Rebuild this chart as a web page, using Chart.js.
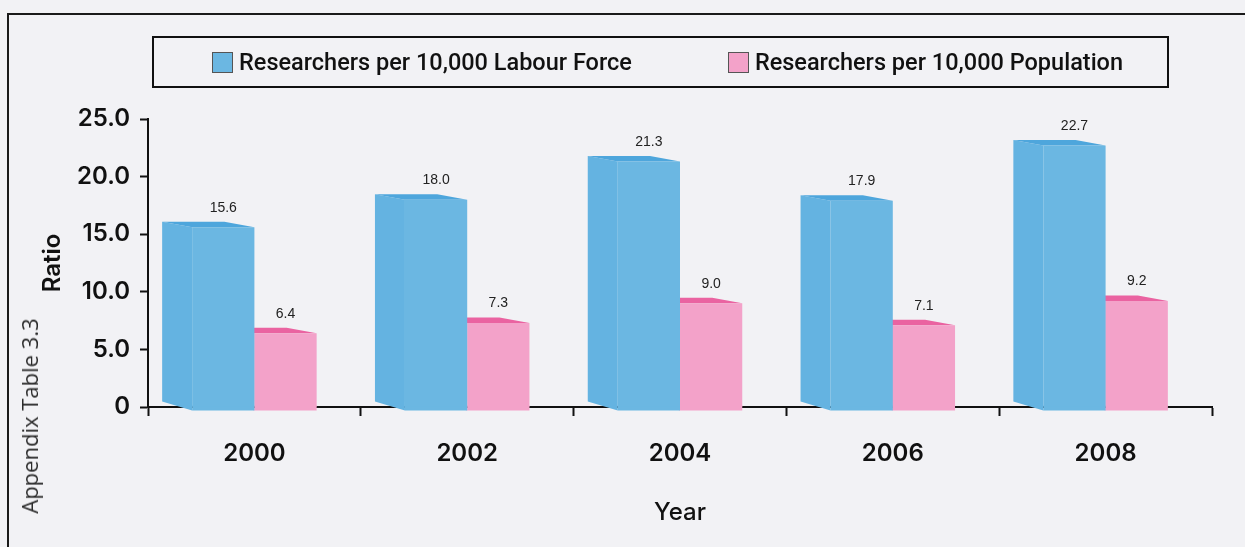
<!DOCTYPE html>
<html>
<head>
<meta charset="utf-8">
<title>Researchers per 10,000</title>
<script src="https://cdn.jsdelivr.net/npm/chart.js@4.4.0/dist/chart.umd.min.js"></script>
<style>
  body { margin: 0; background: #f2f2f5; }
  #wrap { position: relative; width: 1245px; height: 547px; overflow: hidden; }
  #chart { position: absolute; left: 0; top: 0; }
  .frame-top { position: absolute; left: 7px; top: 13px; width: 1238px; height: 2px; background: #1a1a1a; }
  .frame-left { position: absolute; left: 7px; top: 13px; width: 2px; height: 534px; background: #1a1a1a; }
  .side-note {
    position: absolute; left: 29px; top: 416px;
    transform: translate(-50%, -50%) rotate(-90deg);
    font: 22px "Open Sans", sans-serif; color: #2a2a2a; white-space: nowrap;
  }
  #legend {
    position: absolute; left: 152px; top: 36px; width: 955px; height: 48px;
    border: 2px solid #111; display: flex; align-items: center;
    padding-left: 58px; box-sizing: content-box; gap: 96px;
    font: 500 23.5px Roboto, sans-serif; color: #111;
  }
  #legend .item { display: flex; align-items: center; }
  #legend .box { width: 19px; height: 19px; border: 1px solid #555; margin-right: 6px; }
</style>
</head>
<body>
<div id="wrap">
  <canvas id="chart" width="1245" height="547"></canvas>
  <div class="frame-top"></div>
  <div class="frame-left"></div>
  <div class="side-note">Appendix Table 3.3</div>
  <div id="legend"></div>
</div>
<script>
const years = ["2000", "2002", "2004", "2006", "2008"];
const labourForce = [15.6, 18.0, 21.3, 17.9, 22.7];
const population = [6.4, 7.3, 9.0, 7.1, 9.2];
const yTicks = [0, 5, 10, 15, 20, 25];

// front / top / side shades for each series
const shades = [
  { front: "#6bb7e2", top: "#4ea6dc", side: "#64b3e1" },
  { front: "#f3a2c9", top: "#ea63a1", side: "#f08fbd" }
];

const DEPTH_X = 30;
const DEPTH_Y = 5.5;
const FLOOR = 4;

// extruded faces behind each bar, drawn before the fronts
const bars3d = {
  id: "bars3d",
  beforeDatasetsDraw(chart) {
    const ctx = chart.ctx;
    ctx.save();
    for (let d = chart.data.datasets.length - 1; d >= 0; d--) {
      const meta = chart.getDatasetMeta(d);
      const c = shades[d];
      meta.data.forEach(function (bar) {
        const p = bar.getProps(["x", "y", "base", "width"], true);
        const left = p.x - p.width / 2;
        const right = p.x + p.width / 2;
        const bottom = p.base + FLOOR;

        ctx.fillStyle = c.side;
        ctx.beginPath();
        ctx.moveTo(left, p.y);
        ctx.lineTo(left - DEPTH_X, p.y - DEPTH_Y);
        ctx.lineTo(left - DEPTH_X, bottom - 9);
        ctx.lineTo(left, bottom);
        ctx.closePath();
        ctx.fill();

        ctx.fillStyle = c.top;
        ctx.beginPath();
        ctx.moveTo(left, p.y);
        ctx.lineTo(right, p.y);
        ctx.lineTo(right - DEPTH_X, p.y - DEPTH_Y);
        ctx.lineTo(left - DEPTH_X, p.y - DEPTH_Y);
        ctx.closePath();
        ctx.fill();

        ctx.fillStyle = c.front;
        ctx.fillRect(left, p.base - 1, p.width, FLOOR + 1);
      });
    }
    ctx.restore();
  },
  afterDatasetsDraw(chart) {
    const ctx = chart.ctx;
    ctx.save();
    ctx.font = "14px 'Liberation Sans', sans-serif";
    ctx.fillStyle = "#222";
    ctx.textAlign = "center";
    ctx.textBaseline = "middle";
    chart.data.datasets.forEach(function (ds, d) {
      chart.getDatasetMeta(d).data.forEach(function (bar, i) {
        const p = bar.getProps(["x", "y"], true);
        ctx.fillText(ds.data[i].toFixed(1), p.x, p.y - DEPTH_Y - 14);
      });
    });
    ctx.restore();
  }
};

const axisFont = { family: "Inter", size: 24, weight: "600" };

const chart = new Chart(document.getElementById("chart"), {
  type: "bar",
  data: {
    labels: years,
    datasets: [
      {
        label: "Researchers per 10,000 Labour Force",
        data: labourForce,
        backgroundColor: shades[0].front,
        borderWidth: 0,
        categoryPercentage: 0.585,
        barPercentage: 1
      },
      {
        label: "Researchers per 10,000 Population",
        data: population,
        backgroundColor: shades[1].front,
        borderWidth: 0,
        categoryPercentage: 0.585,
        barPercentage: 1
      }
    ]
  },
  plugins: [bars3d],
  options: {
    responsive: false,
    animation: false,
    layout: { padding: { top: 119, right: 33, left: 0, bottom: 0 } },
    plugins: { legend: { display: false }, tooltip: { enabled: false } },
    scales: {
      x: {
        offset: true,
        grid: { offset: true, drawOnChartArea: false, tickLength: 9, tickWidth: 2, tickColor: "#111" },
        border: { color: "#111", width: 2 },
        ticks: { color: "#111", padding: 23, font: axisFont },
        title: {
          display: true, text: "Year", color: "#111",
          font: { family: "Inter", size: 24, weight: "500" },
          padding: { top: 0, bottom: 20 }
        },
        afterFit(scale) { scale.height = 140; }
      },
      y: {
        min: 0,
        max: 25,
        afterBuildTicks(scale) { scale.ticks = yTicks.map(v => ({ value: v })); },
        grid: { drawOnChartArea: false, tickLength: 8, tickWidth: 2, tickColor: "#111" },
        border: { color: "#111", width: 2 },
        ticks: {
          color: "#111", padding: 10, font: axisFont,
          callback: v => (v === 0 ? "0" : v.toFixed(1))
        },
        title: {
          display: true, text: "Ratio", color: "#111",
          font: { family: "Inter", size: 24, weight: "600" },
          padding: { top: 38, bottom: 0 }
        },
        afterFit(scale) { scale.width = 148; }
      }
    }
  }
});

// legend box built from the datasets
const legend = document.getElementById("legend");
chart.data.datasets.forEach(function (ds) {
  const item = document.createElement("div");
  item.className = "item";
  const box = document.createElement("span");
  box.className = "box";
  box.style.background = ds.backgroundColor;
  const text = document.createElement("span");
  text.textContent = ds.label;
  item.appendChild(box);
  item.appendChild(text);
  legend.appendChild(item);
});
</script>
</body>
</html>
